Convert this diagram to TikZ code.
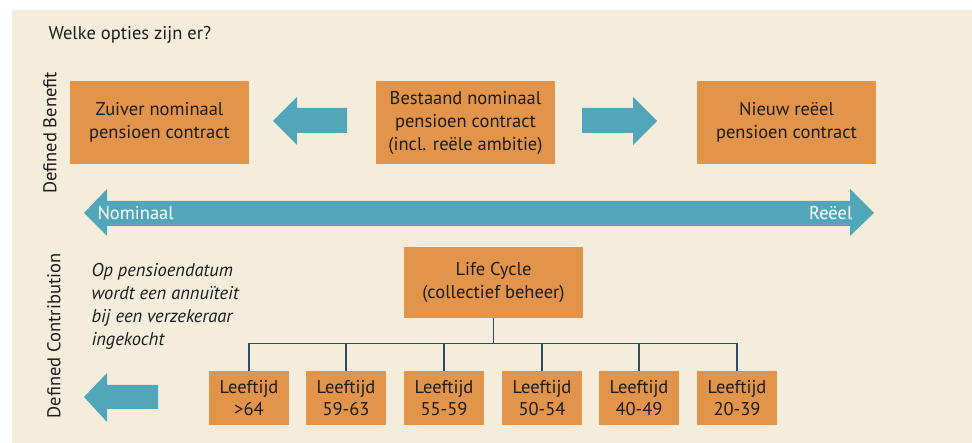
\documentclass[tikz,border=0pt]{standalone}
\usepackage{fontspec}
\setmainfont{PT Sans}
\usetikzlibrary{positioning}
\definecolor{cBack}{HTML}{F4EDDC}
\definecolor{cBox}{HTML}{E2954A}
\definecolor{cArrow}{HTML}{51A7B9}
\definecolor{cLine}{HTML}{2C4A66}
\definecolor{cText}{HTML}{1C1C1C}

\tikzset{
  optbox/.style={fill=cBox, text=cText, minimum width=179pt, minimum height=83pt,
    inner sep=0pt, align=center, font=\fontsize{18.5}{23}\selectfont},
  agebox/.style={fill=cBox, text=cText, minimum width=80pt, minimum height=54pt,
    inner sep=0pt, align=center, font=\fontsize{18.5}{22}\selectfont},
  axislabel/.style={text=cText, rotate=90, font=\fontsize{18.5}{22}\selectfont},
  treeline/.style={draw=cLine, line width=1.3pt},
}

\begin{document}
\begin{tikzpicture}[x=1pt, y=-1pt]
\useasboundingbox (0,0) rectangle (972,443);
% Background panel
\fill[cBack] (12,10) rectangle (972,443);

% Title and side labels
\node[anchor=base west, text=cText, font=\fontsize{18.5}{22}\selectfont] (title) at (45,40) {Welke opties zijn er?};
\node[axislabel] (db) at (50,133) {Defined Benefit};
\node[axislabel] (dc) at (54,336) {Defined Contribution};

% Defined Benefit options
\node[optbox] (zuiver) at (159.5,122.5) {Zuiver nominaal\\pensioen contract};
\node[optbox] (bestaand) at (465.5,122.5) {Bestaand nominaal\\pensioen contract\\(incl. reële ambitie)};
\node[optbox] (nieuw) at (786.5,122.5) {Nieuw reëel\\pensioen contract};

% Block arrows
\fill[cArrow] (273,121) -- (297,97) -- (297,108) -- (347,108) -- (347,133) -- (297,133) -- (297,145) -- cycle;
\fill[cArrow] (657,121) -- (633,97) -- (633,108) -- (582,108) -- (582,133) -- (633,133) -- (633,145) -- cycle;

% Nominaal / reeel scale
\fill[cArrow] (84,213) -- (107,189) -- (107,201) -- (850,201) -- (850,189) -- (874,213)
  -- (850,236) -- (850,226) -- (107,226) -- (107,236) -- cycle;
\node[anchor=west, text=white, font=\fontsize{18.5}{22}\selectfont] (nom) at (94,213) {Nominaal};
\node[anchor=east, text=white, font=\fontsize{18.5}{22}\selectfont] (reeel) at (856,213) {Reëel};

% Defined Contribution
\node[anchor=north west, align=left, text=cText, font=\fontsize{18.5}{23}\selectfont\itshape] (annuiteit) at (88,260)
  {Op pensioendatum\\wordt een annuïteit\\bij een verzekeraar\\ingekocht};
\fill[cArrow] (84,397) -- (107,373) -- (107,385) -- (158,385) -- (158,409) -- (107,409) -- (107,422) -- cycle;

\node[optbox, minimum height=71pt] (life) at (493.5,282.5) {Life Cycle\\(collectief beheer)};
\foreach \i/\x/\l in {1/249/>64, 2/346/59-63, 3/444/55-59, 4/542/50-54, 5/639/40-49, 6/737/20-39} {
  \node[agebox] (age\i) at (\x,398) {Leeftijd\\\l};
}

% Tree
\draw[treeline] (life.south) -- ++(0,25) coordinate (split);
\draw[treeline] (age1.north |- split) -- (age6.north |- split);
\foreach \i in {1,...,6} {
  \draw[treeline] (age\i.north) -- (age\i.north |- split);
}

\end{tikzpicture}
\end{document}
